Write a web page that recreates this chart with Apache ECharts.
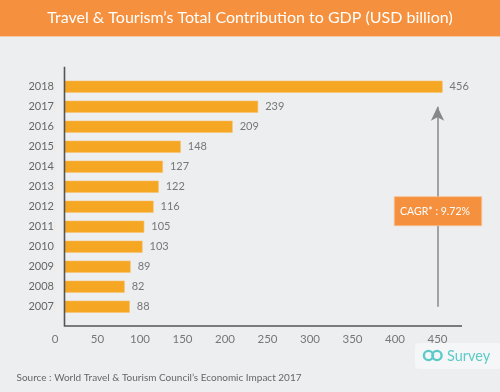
<!DOCTYPE html>
<html><head><meta charset="utf-8">
<script src="https://cdn.jsdelivr.net/npm/echarts@6/dist/echarts.min.js"></script>
<style>html,body{margin:0;padding:0;background:#EDEEF0;}#c{width:500px;height:392px;}</style>
</head><body><div id="c"></div>
<script>
const years = ['2007','2008','2009','2010','2011','2012','2013','2014','2015','2016','2017','2018'];
const gdp = [88, 82, 89, 103, 105, 116, 122, 127, 148, 209, 239, 456];
const xTicks = [0, 50, 100, 150, 200, 250, 300, 350, 400, 450];
const arrowFrom = ['2007', 450];
const arrowTo = ['2017', 450];
const titleText = 'Travel & Tourism\u2019s Total Contribution to GDP (USD billion)';
const sourceText = 'Source : World Travel & Tourism Council\u2019s Economic Impact 2017';
const cagrText = 'CAGR* : 9.72%';

const FONT = 'Lato';
const chart = echarts.init(document.getElementById('c'), null, {renderer: 'canvas'});
const option = {
  backgroundColor: '#EDEEF0',
  animation: false,
  textStyle: {fontFamily: FONT},
  grid: {left: 55, top: 76.7, width: 407, height: 240, containLabel: false},
  xAxis: {
    type: 'value', min: xTicks[0], max: 478.8, interval: 50,
    offset: 9.3,
    axisLine: {show: false}, axisTick: {show: false}, splitLine: {show: false},
    axisLabel: {color: '#777', fontSize: 11.5, fontFamily: FONT, margin: 7, showMaxLabel: false,
      formatter: v => xTicks.indexOf(v) >= 0 ? String(v) : ''}
  },
  yAxis: {
    type: 'category', data: years,
    axisLine: {show: false}, axisTick: {show: false}, splitLine: {show: false},
    axisLabel: {color: '#666', fontSize: 11, fontFamily: FONT, margin: 1}
  },
  series: [{
    type: 'bar', data: gdp, barWidth: 12,
    itemStyle: {color: '#F5A623', borderColor: '#F8C16A', borderWidth: 0.6},
    label: {show: true, position: 'right', distance: 7, color: '#777', fontSize: 11, fontFamily: FONT},
    markLine: {
      silent: true, symbol: ['none', 'arrow'], symbolSize: [10, 14],
      label: {show: false},
      lineStyle: {color: '#888', width: 1.5, type: 'solid'},
      data: [[{coord: [arrowFrom[1], arrowFrom[0]]}, {coord: [arrowTo[1], arrowTo[0]]}]]
    }
  }],
  graphic: [
    {type: 'rect', z: 100, shape: {x: 0, y: 0, width: 500, height: 36}, style: {fill: '#F5913E'}},
    {type: 'rect', z: 100, shape: {x: 0, y: 36, width: 500, height: 1}, style: {fill: '#F7C7A0'}},
    {type: 'text', z: 101, x: 250, y: 18, style: {text: titleText, fill: '#fff', font: '16px Lato', align: 'center', verticalAlign: 'middle'}},
    // cover so bars begin at the axis line
    {type: 'rect', z: 100, shape: {x: 55, y: 70, width: 9.5, height: 252}, style: {fill: '#EDEEF0'}},
    {type: 'polyline', z: 101, shape: {points: [[64.5, 66.7], [64.5, 326], [462, 326]]}, style: {stroke: '#555', lineWidth: 1.6, fill: null}},
    // CAGR box
    {type: 'rect', z: 102, shape: {x: 394.3, y: 196.7, width: 87.4, height: 29}, style: {fill: '#F5913E', stroke: '#F9BE8C', lineWidth: 0.8}},
    {type: 'text', z: 103, x: 435, y: 211.5, style: {text: cagrText, fill: '#fff', font: '10.5px Lato', align: 'center', verticalAlign: 'middle'}},
    // Source
    {type: 'text', z: 101, x: 16.5, y: 377.5, style: {text: sourceText, fill: '#666', font: '10px Lato', align: 'left', verticalAlign: 'middle'}},
    // logo
    {type: 'rect', z: 100, shape: {x: 415, y: 343, width: 90, height: 26, r: 4}, style: {fill: '#F5F6F8'}},
    {type: 'circle', z: 101, shape: {cx: 428.5, cy: 355.5, r: 4.6}, style: {stroke: '#5CCBC8', lineWidth: 2.4, fill: null}},
    {type: 'circle', z: 101, shape: {cx: 437, cy: 355.5, r: 4.6}, style: {stroke: '#5CCBC8', lineWidth: 2.4, fill: null}},
    {type: 'text', z: 101, x: 447, y: 356, style: {text: 'Survey', fill: '#5CCBC8', font: '14.5px Lato', align: 'left', verticalAlign: 'middle'}}
  ]
};
chart.setOption(option);
</script></body></html>
